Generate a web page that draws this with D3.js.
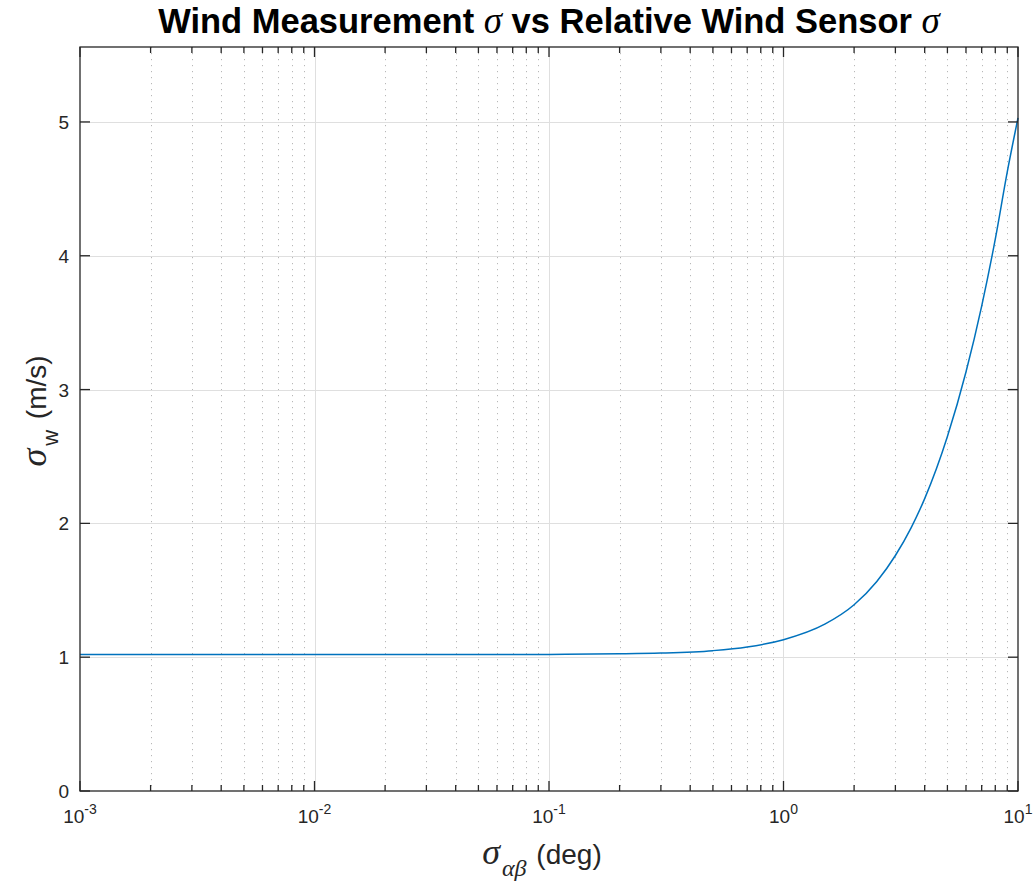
<!DOCTYPE html>
<html>
  <head>
    <meta charset="utf-8">
    <title>Wind measurement sigma</title>
    <script src="https://d3js.org/d3.v7.min.js"></script>
    <style>
      body { margin: 0; background: #fff; }
      text { font-family: "Liberation Sans", Arial, sans-serif; fill: #262626; }
      .greek { font-family: "Liberation Serif", "DejaVu Serif", serif; font-style: italic; }
      .majorGrid { stroke: #dfdfdf; stroke-width: 1; }
      .minorGrid { stroke: #b8b8b8; stroke-width: 1; stroke-dasharray: 1.2, 4.8; }
      .axisLine { stroke: #262626; stroke-width: 1.3; fill: none; }
    </style>
  </head>
  <body>
    <svg id="chart" width="1034" height="884"></svg>
    <script>
      // values
      let sigmaAB = [0.001, 0.01, 0.1, 0.2, 0.3, 0.5, 0.7, 1, 1.5, 2, 2.5, 3, 3.5, 4, 5, 6, 7, 8, 9, 10];
      let sigmaW = [1.02, 1.02, 1.021, 1.025, 1.031, 1.049, 1.076, 1.131, 1.247, 1.392, 1.566, 1.76, 1.967, 2.185, 2.649, 3.131, 3.624, 4.124, 4.627, 5.03];
      let xMajor = [-3, -2, -1, 0, 1];   // exponents
      let yTicks = [0, 1, 2, 3, 4, 5];

      let data = sigmaAB.map(function(d, i) { return { x: d, y: sigmaW[i] }; });

      let margin = { top: 47, right: 16, bottom: 93, left: 80 };
      let width = 1034, height = 884;
      let chart = d3.select("#chart");

      let x = d3.scaleLog()
        .domain([1e-3, 1e1])
        .range([margin.left, width - margin.right]);
      let y = d3.scaleLinear()
        .domain([0, 5.56])
        .range([height - margin.bottom, margin.top]);

      // minor ticks 2..9 in each decade
      let xMinor = [];
      xMajor.slice(0, -1).forEach(function(e) {
        for (let k = 2; k <= 9; k++) xMinor.push(k * Math.pow(10, e));
      });

      let grid = chart.append("g");
      grid.selectAll(".minorGrid")
        .data(xMinor)
        .enter().append("line")
          .classed("minorGrid", true)
          .attr("x1", function(d) { return Math.round(x(d)) + 0.5; })
          .attr("x2", function(d) { return Math.round(x(d)) + 0.5; })
          .attr("y1", y.range()[1])
          .attr("y2", y.range()[0]);
      grid.selectAll(".xGrid")
        .data(xMajor.slice(1, -1))
        .enter().append("line")
          .classed("majorGrid", true)
          .attr("x1", function(d) { return Math.round(x(Math.pow(10, d))) + 0.5; })
          .attr("x2", function(d) { return Math.round(x(Math.pow(10, d))) + 0.5; })
          .attr("y1", y.range()[1])
          .attr("y2", y.range()[0]);
      grid.selectAll(".yGrid")
        .data(yTicks.slice(1))
        .enter().append("line")
          .classed("majorGrid", true)
          .attr("x1", x.range()[0])
          .attr("x2", x.range()[1])
          .attr("y1", function(d) { return Math.round(y(d)) + 0.5; })
          .attr("y2", function(d) { return Math.round(y(d)) + 0.5; });

      // curve
      let line = d3.line()
        .x(function(d) { return x(d.x); })
        .y(function(d) { return y(d.y); })
        .curve(d3.curveMonotoneX);
      chart.append("path")
        .datum(data)
        .attr("d", line)
        .attr("fill", "none")
        .attr("stroke", "#0072BD")
        .attr("stroke-width", 1.5);

      // axes box and inward ticks
      let axes = chart.append("g");
      axes.append("rect")
        .classed("axisLine", true)
        .attr("x", x.range()[0])
        .attr("y", y.range()[1])
        .attr("width", x.range()[1] - x.range()[0])
        .attr("height", y.range()[0] - y.range()[1]);
      let y0 = y.range()[0], y1 = y.range()[1];
      let x0 = x.range()[0], x1 = x.range()[1];
      xMajor.forEach(function(e) {
        let px = x(Math.pow(10, e));
        axes.append("line").classed("axisLine", true).attr("x1", px).attr("x2", px).attr("y1", y0).attr("y2", y0 - 10);
        axes.append("line").classed("axisLine", true).attr("x1", px).attr("x2", px).attr("y1", y1).attr("y2", y1 + 10);
      });
      xMinor.forEach(function(d) {
        let px = x(d);
        axes.append("line").classed("axisLine", true).attr("x1", px).attr("x2", px).attr("y1", y0).attr("y2", y0 - 6);
        axes.append("line").classed("axisLine", true).attr("x1", px).attr("x2", px).attr("y1", y1).attr("y2", y1 + 6);
      });
      yTicks.forEach(function(d) {
        let py = y(d);
        axes.append("line").classed("axisLine", true).attr("x1", x0).attr("x2", x0 + 10).attr("y1", py).attr("y2", py);
        axes.append("line").classed("axisLine", true).attr("x1", x1).attr("x2", x1 - 10).attr("y1", py).attr("y2", py);
      });

      // tick labels
      chart.append("g").selectAll("text")
        .data(yTicks)
        .enter().append("text")
          .attr("x", x0 - 11)
          .attr("y", function(d) { return y(d) + 7; })
          .attr("text-anchor", "end")
          .style("font-size", "19px")
          .text(function(d) { return d; });
      let xLabels = chart.append("g").selectAll("text")
        .data(xMajor)
        .enter().append("text")
          .attr("x", function(d) { return x(Math.pow(10, d)); })
          .attr("y", y0 + 32)
          .attr("text-anchor", "middle")
          .style("font-size", "19px");
      xLabels.append("tspan").text("10");
      xLabels.append("tspan")
        .attr("dy", -9)
        .style("font-size", "14px")
        .text(function(d) { return d < 0 ? "-" + (-d) : d; });

      // title
      let title = chart.append("text")
        .attr("x", (x0 + x1) / 2)
        .attr("y", 33)
        .attr("text-anchor", "middle")
        .style("font-size", "34.5px")
        .style("font-weight", "bold")
        .style("fill", "#000");
      title.append("tspan").text("Wind Measurement ");
      title.append("tspan").classed("greek", true).style("font-weight", "normal").style("font-size", "37px").text("σ");
      title.append("tspan").text(" vs Relative Wind Sensor ");
      title.append("tspan").classed("greek", true).style("font-weight", "normal").style("font-size", "37px").text("σ");

      // x label
      let xLab = chart.append("text")
        .attr("x", 542)
        .attr("y", 864)
        .attr("text-anchor", "middle")
        .style("font-size", "28px");
      xLab.append("tspan").classed("greek", true).style("font-size", "36px").text("σ");
      xLab.append("tspan").classed("greek", true).attr("dx", 2).attr("dy", 12).style("font-size", "24px").text("αβ");
      xLab.append("tspan").attr("dx", 2).attr("dy", -12).text(" (deg)");

      // y label
      let yLab = chart.append("text")
        .attr("transform", "translate(46,411) rotate(-90)")
        .attr("text-anchor", "middle")
        .style("font-size", "28px");
      yLab.append("tspan").classed("greek", true).style("font-size", "36px").text("σ");
      yLab.append("tspan").attr("dx", 3).attr("dy", 12).style("font-size", "22px").text("w");
      yLab.append("tspan").attr("dx", 3).attr("dy", -12).text(" (m/s)");
    </script>
  </body>
</html>
